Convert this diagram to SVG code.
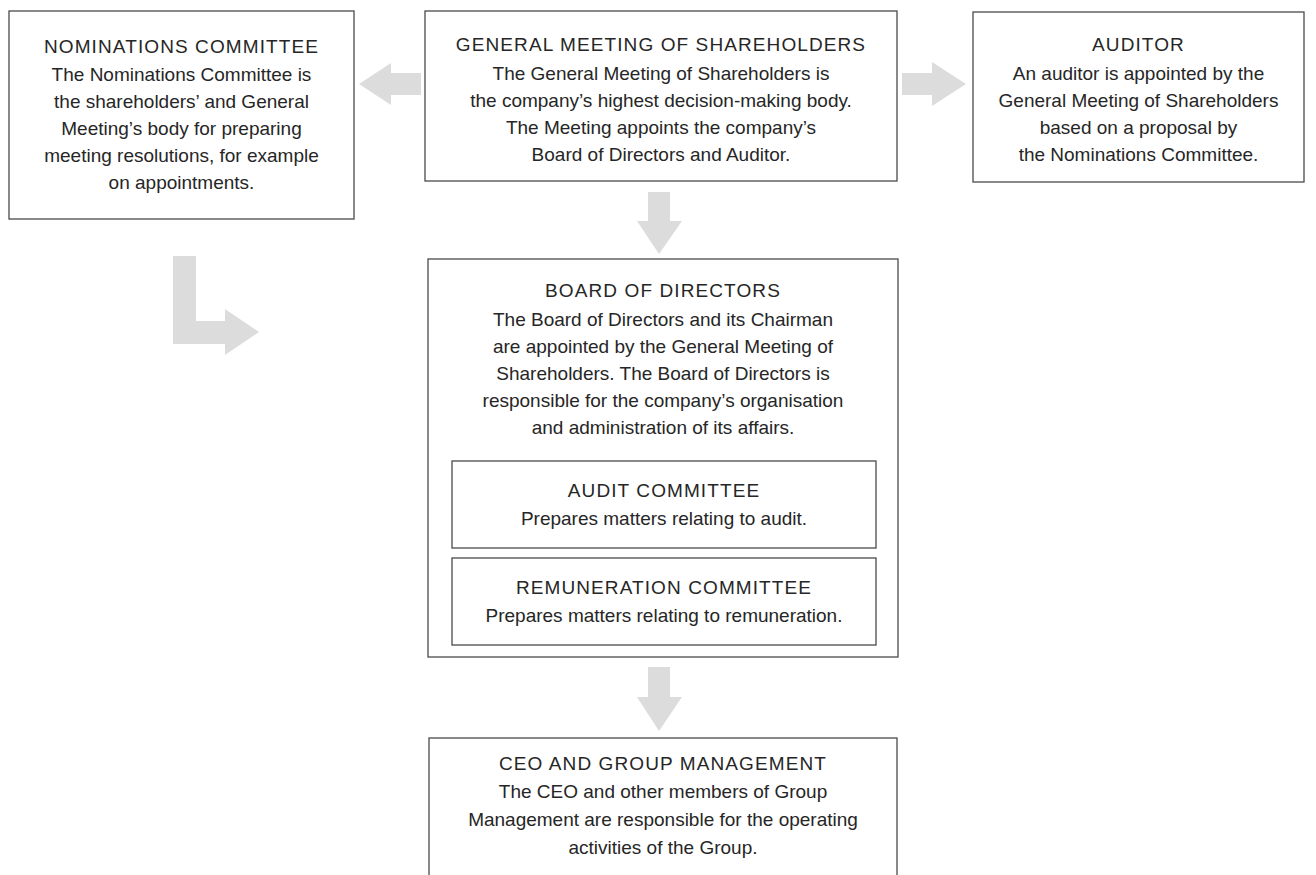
<svg xmlns="http://www.w3.org/2000/svg" width="1316" height="875" viewBox="0 0 1316 875">
<style>
.box{fill:#ffffff;stroke:#4a4a4a;stroke-width:1.3}
.arr{fill:#dcdcdd;stroke:none}
text{font-family:"Liberation Sans",Arial,sans-serif;font-size:19px;fill:#262626;text-anchor:middle}
.t{letter-spacing:1.1px}
</style>
<rect width="1316" height="875" fill="#ffffff"/>
<g id="connectors">
<polygon class="arr" points="421,73 391,73 391,63 359,84 391,105 391,95 421,95"/>
<polygon class="arr" points="902,73 932,73 932,62 966,84 932,106 932,95 902,95"/>
<polygon class="arr" points="648,192 670,192 670,221 682,221 659,254 637,221 648,221"/>
<polygon class="arr" points="648,667 670,667 670,697 682,697 659,731 637,697 648,697"/>
<polygon class="arr" points="173,256 196,256 196,321 225,321 225,309 259,332 225,355 225,344 173,344"/>
</g>
<g id="nominations">
<rect class="box" x="9" y="11" width="345" height="208"/>
<text class="t" x="181.5" y="53">NOMINATIONS COMMITTEE</text>
<text x="181.5" y="81">The Nominations Committee is</text>
<text x="181.5" y="108">the shareholders’ and General</text>
<text x="181.5" y="135">Meeting’s body for preparing</text>
<text x="181.5" y="162">meeting resolutions, for example</text>
<text x="181.5" y="189">on appointments.</text>
</g>
<g id="general-meeting">
<rect class="box" x="425" y="11" width="472" height="170"/>
<text class="t" x="661" y="51">GENERAL MEETING OF SHAREHOLDERS</text>
<text x="661" y="80">The General Meeting of Shareholders is</text>
<text x="661" y="107">the company’s highest decision-making body.</text>
<text x="661" y="134">The Meeting appoints the company’s</text>
<text x="661" y="161">Board of Directors and Auditor.</text>
</g>
<g id="auditor">
<rect class="box" x="973" y="12" width="331" height="170"/>
<text class="t" x="1138.5" y="51">AUDITOR</text>
<text x="1138.5" y="80">An auditor is appointed by the</text>
<text x="1138.5" y="107">General Meeting of Shareholders</text>
<text x="1138.5" y="134">based on a proposal by</text>
<text x="1138.5" y="161">the Nominations Committee.</text>
</g>
<g id="board">
<rect class="box" x="428" y="259" width="470" height="398"/>
<text class="t" x="663" y="297">BOARD OF DIRECTORS</text>
<text x="663" y="326">The Board of Directors and its Chairman</text>
<text x="663" y="353">are appointed by the General Meeting of</text>
<text x="663" y="380">Shareholders. The Board of Directors is</text>
<text x="663" y="407">responsible for the company’s organisation</text>
<text x="663" y="434">and administration of its affairs.</text>
</g>
<g id="audit-committee">
<rect class="box" x="452" y="461" width="424" height="87"/>
<text class="t" x="664" y="497">AUDIT COMMITTEE</text>
<text x="664" y="525">Prepares matters relating to audit.</text>
</g>
<g id="remuneration-committee">
<rect class="box" x="452" y="558" width="424" height="87"/>
<text class="t" x="664" y="594">REMUNERATION COMMITTEE</text>
<text x="664" y="622">Prepares matters relating to remuneration.</text>
</g>
<g id="ceo">
<rect class="box" x="429" y="738" width="468" height="160"/>
<text class="t" x="663" y="770">CEO AND GROUP MANAGEMENT</text>
<text x="663" y="798">The CEO and other members of Group</text>
<text x="663" y="826">Management are responsible for the operating</text>
<text x="663" y="854">activities of the Group.</text>
</g>
</svg>
